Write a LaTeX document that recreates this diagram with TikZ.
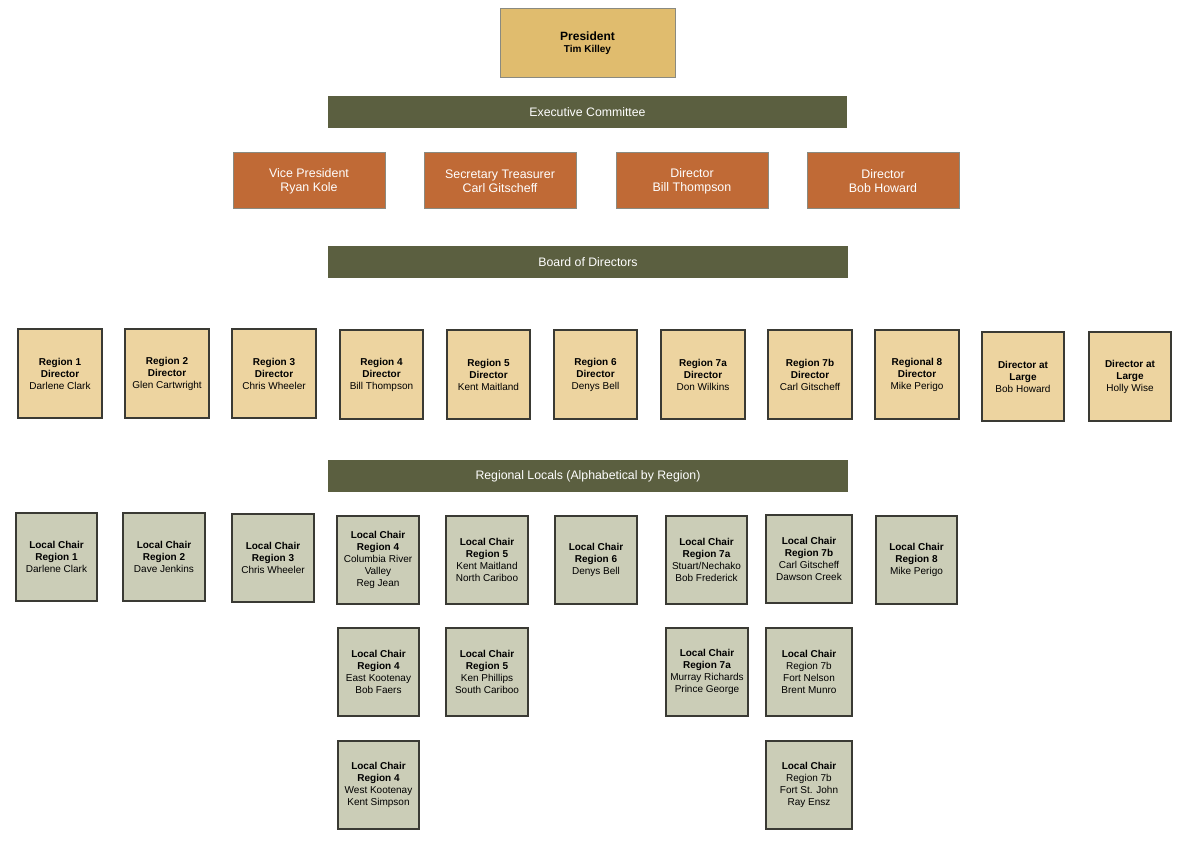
\documentclass[tikz,border=0pt]{standalone}
\usepackage{fontspec}
\setmainfont{Liberation Sans}
\definecolor{presfill}{HTML}{E0BC6E}
\definecolor{orgfill}{HTML}{C06A36}
\definecolor{barfill}{HTML}{5B5F40}
\definecolor{tanfill}{HTML}{EDD4A0}
\definecolor{greyfill}{HTML}{CBCDB7}
\definecolor{lightborder}{HTML}{8A8A80}
\definecolor{darkborder}{HTML}{3A3A34}
\newcommand\orgbox[7]{\node[#2, minimum width={(#5-#3)*1pt}, minimum height={(#6-#4)*1pt}] (#1) at ({(#3+#5)/2},{(#4+#6)/2}) {#7};}
\begin{document}
\begin{tikzpicture}[x=1pt,y=-1pt,
  every node/.style={inner sep=0pt, outer sep=0pt, align=center},
  presbox/.style={fill=presfill, draw=lightborder, line width=1pt, font=\fontsize{12}{13}\selectfont\bfseries, text depth=3pt},
  barbox/.style={fill=barfill, draw=none, text=white, font=\fontsize{12.3}{14}\selectfont},
  execbox/.style={fill=orgfill, draw=lightborder, line width=1pt, text=white, font=\fontsize{12.4}{14}\selectfont},
  dirbox/.style={fill=tanfill, draw=darkborder, line width=1.1pt, font=\fontsize{10}{12}\selectfont},
  localbox/.style={fill=greyfill, draw=darkborder, line width=1.1pt, font=\fontsize{10}{12}\selectfont}]
\useasboundingbox[fill=white] (0,0) rectangle (1187,853);
% top
\orgbox{pres}{presbox}{500}{9}{675}{78}{President\\[-1pt]{\fontsize{10}{12}\selectfont Tim Killey}}
\orgbox{exec}{barbox}{328}{96}{847}{128}{Executive Committee}
\orgbox{vp}{execbox}{233}{153}{385}{209}{Vice President\\Ryan Kole}
\orgbox{st}{execbox}{424}{153}{576}{209}{Secretary Treasurer\\Carl Gitscheff}
\orgbox{dbt}{execbox}{616}{153}{768}{209}{Director\\Bill Thompson}
\orgbox{dbh}{execbox}{807}{153}{959}{209}{Director\\Bob Howard}
\orgbox{board}{barbox}{328}{246}{848}{278}{Board of Directors}
% directors
\orgbox{d1}{dirbox}{18}{329}{102}{418}{\textbf{Region 1}\\\textbf{Director}\\Darlene Clark}
\orgbox{d2}{dirbox}{125}{329}{209}{418}{\textbf{Region 2}\\\textbf{Director}\\Glen Cartwright}
\orgbox{d3}{dirbox}{232}{329}{316}{418}{\textbf{Region 3}\\\textbf{Director}\\Chris Wheeler}
\orgbox{d4}{dirbox}{340}{330}{423}{419}{\textbf{Region 4}\\\textbf{Director}\\Bill Thompson}
\orgbox{d5}{dirbox}{447}{330}{530}{419}{\textbf{Region 5}\\\textbf{Director}\\Kent Maitland}
\orgbox{d6}{dirbox}{554}{330}{637}{419}{\textbf{Region 6}\\\textbf{Director}\\Denys Bell}
\orgbox{d7a}{dirbox}{661}{330}{745}{419}{\textbf{Region 7a}\\\textbf{Director}\\Don Wilkins}
\orgbox{d7b}{dirbox}{768}{330}{852}{419}{\textbf{Region 7b}\\\textbf{Director}\\Carl Gitscheff}
\orgbox{d8}{dirbox}{875}{330}{959}{419}{\textbf{Regional 8}\\\textbf{Director}\\Mike Perigo}
\orgbox{dal1}{dirbox}{982}{332}{1064}{421}{\textbf{Director at}\\\textbf{Large}\\Bob Howard}
\orgbox{dal2}{dirbox}{1089}{332}{1171}{421}{\textbf{Director at}\\\textbf{Large}\\Holly Wise}
\orgbox{locals}{barbox}{328}{460}{848}{492}{Regional Locals (Alphabetical by Region)}
% locals row 1
\orgbox{l1}{localbox}{16}{513}{97}{601}{\textbf{Local Chair}\\\textbf{Region 1}\\Darlene Clark}
\orgbox{l2}{localbox}{123}{513}{205}{601}{\textbf{Local Chair}\\\textbf{Region 2}\\Dave Jenkins}
\orgbox{l3}{localbox}{232}{514}{314}{602}{\textbf{Local Chair}\\\textbf{Region 3}\\Chris Wheeler}
\orgbox{l4a}{localbox}{337}{516}{419}{604}{\textbf{Local Chair}\\\textbf{Region 4}\\Columbia River\\Valley\\Reg Jean}
\orgbox{l5a}{localbox}{446}{516}{528}{604}{\textbf{Local Chair}\\\textbf{Region 5}\\Kent Maitland\\North Cariboo}
\orgbox{l6}{localbox}{555}{516}{637}{604}{\textbf{Local Chair}\\\textbf{Region 6}\\Denys Bell}
\orgbox{l7aa}{localbox}{666}{516}{747}{604}{\textbf{Local Chair}\\\textbf{Region 7a}\\Stuart/Nechako\\Bob Frederick}
\orgbox{l7ba}{localbox}{766}{515}{852}{603}{\textbf{Local Chair}\\\textbf{Region 7b}\\Carl Gitscheff\\Dawson Creek}
\orgbox{l8}{localbox}{876}{516}{957}{604}{\textbf{Local Chair}\\\textbf{Region 8}\\Mike Perigo}
% locals row 2
\orgbox{l4b}{localbox}{338}{628}{419}{716}{\textbf{Local Chair}\\\textbf{Region 4}\\East Kootenay\\Bob Faers}
\orgbox{l5b}{localbox}{446}{628}{528}{716}{\textbf{Local Chair}\\\textbf{Region 5}\\Ken Phillips\\South Cariboo}
\orgbox{l7ab}{localbox}{666}{628}{748}{716}{\textbf{Local Chair}\\\textbf{Region 7a}\\Murray Richards\\Prince George}
\orgbox{l7bb}{localbox}{766}{628}{852}{716}{\textbf{Local Chair}\\Region 7b\\Fort Nelson\\Brent Munro}
% locals row 3
\orgbox{l4c}{localbox}{338}{741}{419}{829}{\textbf{Local Chair}\\\textbf{Region 4}\\West Kootenay\\Kent Simpson}
\orgbox{l7bc}{localbox}{766}{741}{852}{829}{\textbf{Local Chair}\\Region 7b\\Fort St. John\\Ray Ensz}
\end{tikzpicture}
\end{document}
